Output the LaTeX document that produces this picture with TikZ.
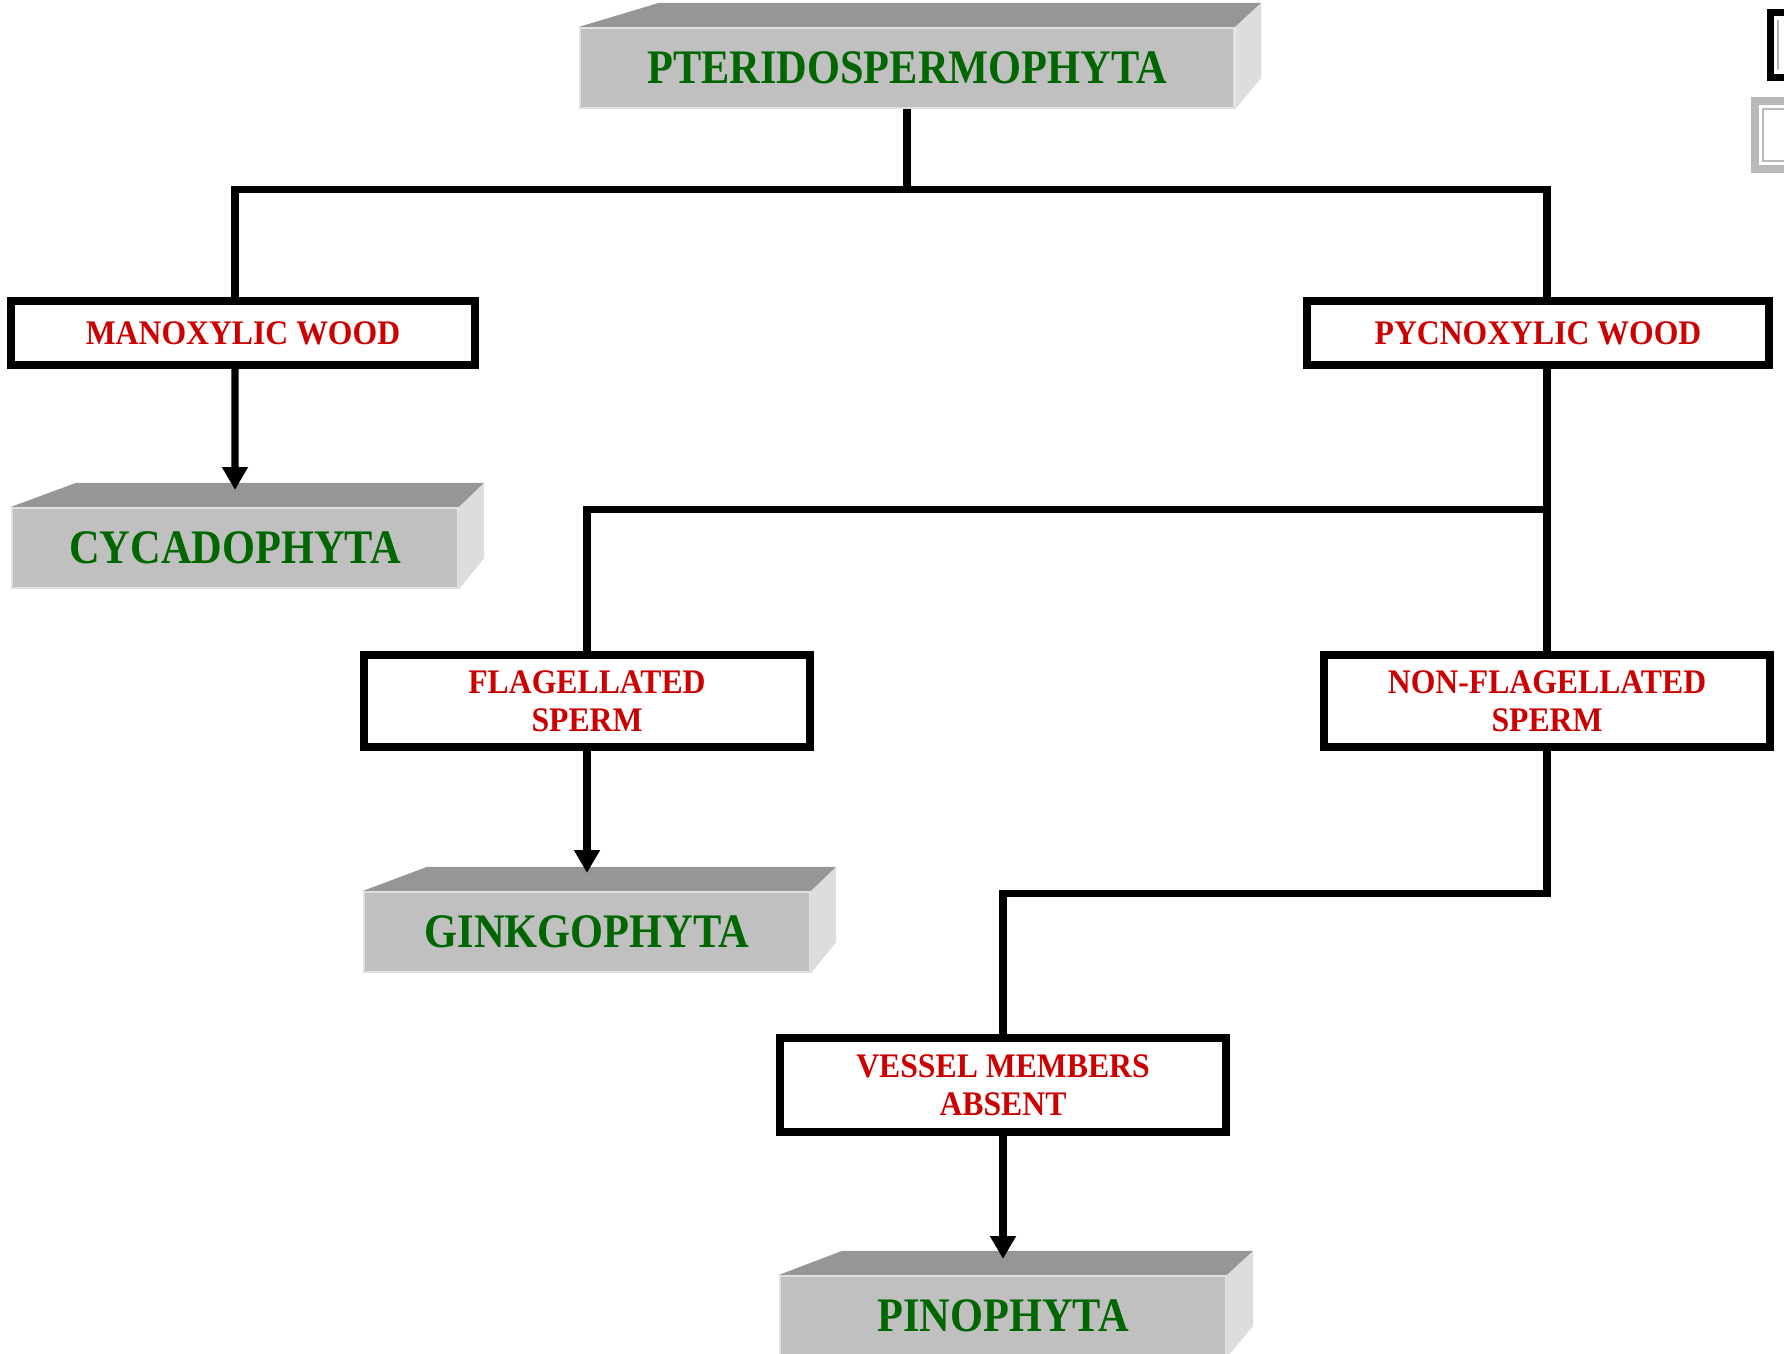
\documentclass[tikz,border=0pt]{standalone}
\usepackage{fontspec}
\usepackage{tikz}
\usetikzlibrary{arrows.meta}
\newfontfamily\greenfont{Liberation Serif}[FakeStretch=0.88]
\newfontfamily\redfont{Liberation Serif}[FakeStretch=0.92]
\definecolor{phylumgreen}{HTML}{006600}
\definecolor{traitred}{HTML}{CC0000}
\definecolor{frontgray}{HTML}{C0C0C0}
\definecolor{topgray}{HTML}{969696}
\definecolor{sidegray}{HTML}{DDDDDD}

\begin{document}
\begin{tikzpicture}[x=0.01cm,y=-0.01cm,
    phylum/.style={fill=frontgray, draw=black!12, line width=0.6pt, minimum width=4.46cm, minimum height=0.8cm, inner sep=0pt, text=phylumgreen, font=\greenfont\bfseries\fontsize{13.7}{16}\selectfont},
    trait/.style={draw=black, line width=2.3pt, fill=white, minimum width=4.45cm, minimum height=0.92cm, inner sep=0pt, align=center, text=traitred, font=\redfont\bfseries\fontsize{9.8}{10.7}\selectfont},
    link/.style={line width=2pt},
    arrow/.style={link, -{Triangle[length=6.5pt,width=7pt]}}]
        \useasboundingbox (0,0) rectangle (1784,1353);

        \node[phylum, minimum width=6.54cm] (pt) at (907,68) {PTERIDOSPERMOPHYTA};
        \node[trait, minimum width=4.64cm, minimum height=0.64cm] (mw) at (243,333) {MANOXYLIC WOOD};
        \node[trait, minimum width=4.62cm, minimum height=0.64cm] (pw) at (1538,333) {PYCNOXYLIC WOOD};
        \node[phylum] (cy) at (235,548) {CYCADOPHYTA};
        \node[trait] (fs) at (587,701) {FLAGELLATED\\SPERM};
        \node[trait] (nf) at (1547,701) {NON-FLAGELLATED\\SPERM};
        \node[phylum] (gi) at (587,932) {GINKGOPHYTA};
        \node[trait, minimum width=4.46cm, minimum height=0.94cm] (vm) at (1003,1085) {VESSEL MEMBERS\\ABSENT};
        \node[phylum] (pi) at (1003,1316) {PINOPHYTA};

        % top and side of the grey slabs
        \foreach \n/\s/\d in {pt/80/26, cy/65/25, gi/64/25, pi/63/26} {
            \fill[topgray] (\n.north west) -- ++(\s,-24) -- ([shift={(\d,-24)}]\n.north east) -- (\n.north east) -- cycle;
            \fill[sidegray] (\n.north east) -- ++(\d,-24) -- ([shift={(\d,-31)}]\n.south east) -- (\n.south east) -- cycle;
        }

        \coordinate (f2) at (1547,509);
        \coordinate (f3) at (1547,893);

        \draw[link] (pt.south) -- ++(0,80) coordinate (f1);
        \draw[link] ([xshift=-0.08cm]mw.north) |- (f1) -| (nf.north |- pw.north);
        \draw[arrow] ([xshift=-0.08cm]mw.south) -- ([yshift=0.17cm]cy.north);
        \draw[link] (nf.north |- pw.south) -- (nf.north);
        \draw[link] (fs.north) |- ([xshift=1pt]f2);
        \draw[arrow] (fs.south) -- ([yshift=0.18cm]gi.north);
        \draw[link] (nf.south) -- (f3) -| (vm.north);
        \draw[arrow] (vm.south) -- ([yshift=0.16cm]pi.north);

        % frames at the right edge
        \fill[black] (1767,9) rectangle (1784,81);
        \fill[white] (1774,16) rectangle (1784,74);
        \draw[gray!60, line width=0.6pt] (1778,20) -- (1778,70);
        \fill[gray!55] (1751,97) rectangle (1784,173);
        \fill[white] (1759,105) rectangle (1784,165);
        \draw[gray!55, line width=0.8pt] (1784,109) -- (1763,109) -- (1763,161) -- (1784,161);
    \end{tikzpicture}
\end{document}
